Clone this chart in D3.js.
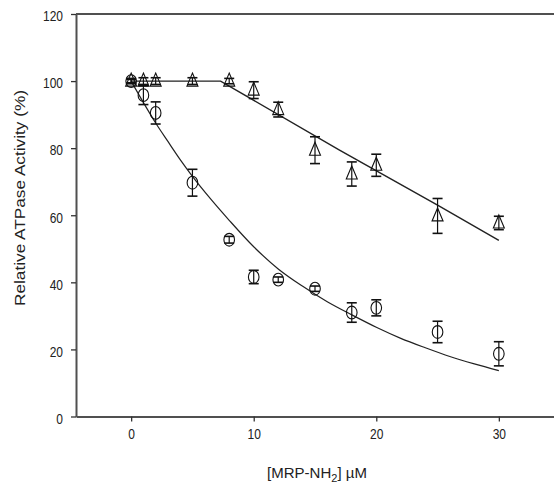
<!DOCTYPE html>
<html>
<head>
<meta charset="utf-8">
<script src="https://cdn.jsdelivr.net/npm/d3@7"></script>
<style>
  body { margin: 0; background: #fff; }
  svg { display: block; font-family: Arial, "Liberation Sans", sans-serif; }
</style>
</head>
<body>
<div id="chart"></div>
<script>
// MRP-NH2 inhibition of ATPase activity
const xTicks = [0, 10, 20, 30];
const yTicks = [0, 20, 40, 60, 80, 100, 120];

// circles
const circleConc = [0, 1, 2, 5, 8, 10, 12, 15, 18, 20, 25, 30];
const circleMean = [100, 95.8, 90.5, 69.7, 52.7, 41.6, 40.8, 38.1, 31.0, 32.4, 25.2, 18.7];
const circleErr  = [0.8, 2.8, 3.3, 4.0, 1.0, 2.0, 0.8, 0.8, 2.9, 2.4, 3.2, 3.6];

// triangles
const triConc = [0, 1, 2, 5, 8, 10, 12, 15, 18, 20, 25, 30];
const triMean = [100, 100, 100, 100, 100, 97.3, 91.5, 79.4, 72.3, 74.9, 59.8, 57.7];
const triErr  = [0.5, 1.0, 1.0, 1.0, 0.8, 2.5, 2.2, 4.0, 3.6, 3.3, 5.2, 2.0];

// fitted curves
const circleFitX = [0, 1, 2, 3, 4, 5, 6.5, 8, 10, 12, 14, 16, 18, 20, 22, 24, 26, 28, 30];
const circleFitY = [100, 93.6, 87.5, 82, 76.6, 71.6, 64.8, 58.5, 50.6, 44, 38.8, 34.2, 30.3, 26.6, 23.3, 20.5, 17.9, 15.7, 13.7];
const triFitX = [0, 7.3, 17, 25, 30];
const triFitY = [100, 100, 79.4, 63, 52.5];

const width = 554, height = 493;
const axisColor = '#505050';

const svg = d3.select('#chart').append('svg')
  .attr('width', width)
  .attr('height', height);

const x = d3.scaleLinear().domain([-4.5, 34.5]).range([76, 554]);
const y = d3.scaleLinear().domain([0, 120]).range([416.5, 14]);

// axes
const xAxis = svg.append('g')
  .attr('transform', `translate(0,${y(0)})`)
  .call(d3.axisBottom(x).tickValues(xTicks).tickSize(5).tickSizeOuter(0));
const yAxis = svg.append('g')
  .attr('transform', `translate(${x(-4.5)},0)`)
  .call(d3.axisLeft(y).tickValues(yTicks).tickSize(5).tickSizeOuter(0).tickPadding(8));

[xAxis, yAxis].forEach(g => {
  g.select('.domain').attr('stroke', axisColor).attr('stroke-width', 2);
  g.selectAll('.tick line').attr('stroke', '#333').attr('stroke-width', 1.3);
  g.selectAll('.tick text')
    .attr('fill', '#222')
    .style('font-size', '12px');
});
// the figure text is slightly stretched vertically
xAxis.selectAll('.tick text').attr('y', 0).attr('dy', '0.72em')
  .attr('transform', 'translate(0,12) scale(1,1.25)');
yAxis.selectAll('.tick text').attr('dy', '0.32em')
  .attr('transform', 'translate(0,2) scale(1,1.25)');

// top frame line
svg.append('line')
  .attr('x1', x(-4.5)).attr('x2', width)
  .attr('y1', y(120)).attr('y2', y(120))
  .attr('stroke', axisColor).attr('stroke-width', 2);

// axis titles
svg.append('text')
  .attr('transform', 'translate(25,198) rotate(-90)')
  .attr('text-anchor', 'middle')
  .attr('textLength', 216)
  .attr('lengthAdjust', 'spacingAndGlyphs')
  .style('font-size', '14px')
  .attr('fill', '#222')
  .text('Relative ATPase Activity (%)');

const xLabel = svg.append('text')
  .attr('x', 317)
  .attr('y', 478)
  .attr('text-anchor', 'middle')
  .style('font-size', '15px')
  .attr('fill', '#222');
xLabel.append('tspan').text('[MRP-NH');
xLabel.append('tspan').attr('dy', 4).style('font-size', '11px').text('2');
xLabel.append('tspan').attr('dy', -4).text('] \u00b5M');

// fitted lines
const line = d3.line()
  .x(d => x(d[0]))
  .y(d => y(d[1]));

svg.append('path')
  .datum(circleFitX.map((v, i) => [v, circleFitY[i]]))
  .attr('d', line.curve(d3.curveMonotoneX))
  .attr('fill', 'none').attr('stroke', '#222').attr('stroke-width', 1.2);

svg.append('path')
  .datum(triFitX.map((v, i) => [v, triFitY[i]]))
  .attr('d', line.curve(d3.curveLinear))
  .attr('fill', 'none').attr('stroke', '#222').attr('stroke-width', 1.4);

// error bars
function errorBars(conc, mean, err) {
  const g = svg.append('g').attr('stroke', '#111');
  conc.forEach((c, i) => {
    const cx = x(c), top = y(mean[i] + err[i]), bot = y(mean[i] - err[i]);
    g.append('line').attr('x1', cx).attr('x2', cx).attr('y1', top).attr('y2', bot).attr('stroke-width', 1.2);
    g.append('line').attr('x1', cx - 5).attr('x2', cx + 5).attr('y1', top).attr('y2', top).attr('stroke-width', 1.6);
    g.append('line').attr('x1', cx - 5).attr('x2', cx + 5).attr('y1', bot).attr('y2', bot).attr('stroke-width', 1.6);
  });
}
errorBars(triConc, triMean, triErr);
errorBars(circleConc, circleMean, circleErr);

// markers
svg.append('g').selectAll('path')
  .data(triConc.map((c, i) => [c, triMean[i]]))
  .enter().append('path')
  .attr('d', 'M0,-8L5.5,5L-5.5,5Z')
  .attr('transform', d => `translate(${x(d[0])},${y(d[1])})`)
  .attr('fill', 'none').attr('stroke', '#111').attr('stroke-width', 1.1);

svg.append('g').selectAll('ellipse')
  .data(circleConc.map((c, i) => [c, circleMean[i]]))
  .enter().append('ellipse')
  .attr('cx', d => x(d[0]))
  .attr('cy', d => y(d[1]))
  .attr('rx', 5.3).attr('ry', 6.4)
  .attr('fill', 'none').attr('stroke', '#111').attr('stroke-width', 1.1);
</script>
</body>
</html>
